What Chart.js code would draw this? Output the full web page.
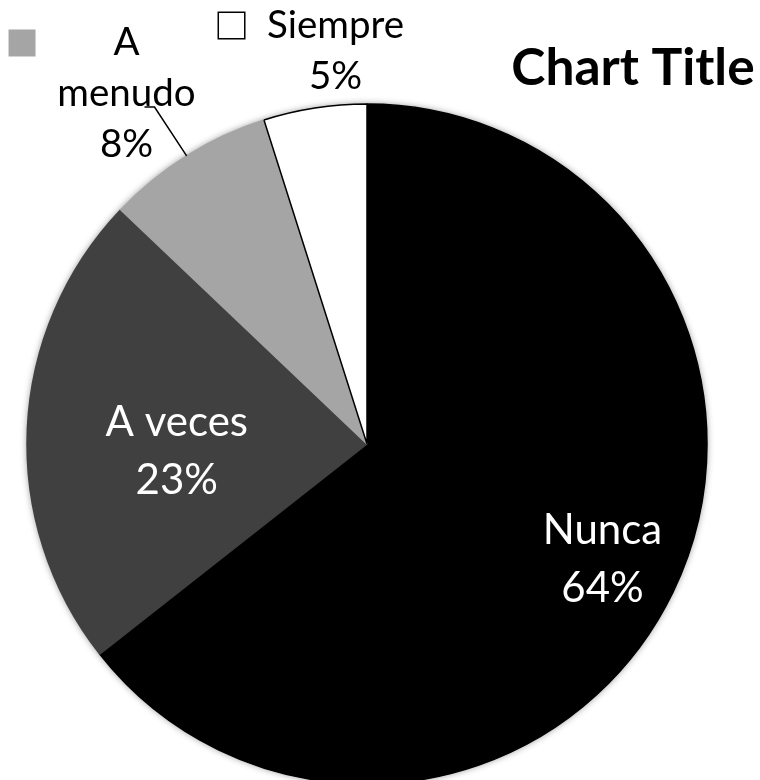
<!DOCTYPE html>
<html>
<head>
<meta charset="utf-8">
<script src="https://cdn.jsdelivr.net/npm/chart.js@4/dist/chart.umd.min.js"></script>
<style>
  html, body { margin: 0; padding: 0; background: #fff; }
  canvas { display: block; }
</style>
</head>
<body>
<canvas id="pie" width="760" height="780"></canvas>
<script>
// data
const categories = ['Nunca', 'A veces', 'A menudo', 'Siempre'];
const shares = [64.4, 22.7, 8.0, 4.9];
const sliceColors = ['#000000', '#404040', '#a5a5a5', '#ffffff'];
const edgeColors = ['#000000', '#404040', '#a5a5a5', '#000000'];
const chartTitle = 'Chart Title';

// label placement: fraction of radius along the mid angle, then a nudge
const labelSpots = [
    { rf: 0.77, dx: 0, dy: 0, inside: true },
    { rf: 0.56, dx: 0, dy: 15, inside: true },
    { rf: 1.25, dx: -15, dy: 10, inside: false, key: 'fill', leader: true },
    { rf: 1.16, dx: 29, dy: -4, inside: false, key: 'box' }
];

const FONT = 'Lato, "Open Sans", sans-serif';

// soft shadow under the whole pie
const pieShadow = {
    id: 'pieShadow',
    beforeDatasetsDraw(chart) {
        let arc = chart.getDatasetMeta(0).data[0];
        if (!arc) return;
        let ctx = chart.ctx;
        ctx.save();
        ctx.shadowColor = 'rgba(0,0,0,0.45)';
        ctx.shadowBlur = 7;
        ctx.fillStyle = '#ffffff';
        ctx.beginPath();
        ctx.arc(arc.x, arc.y, arc.outerRadius, 0, Math.PI * 2);
        ctx.fill();
        ctx.restore();
    }
};

const sliceLabels = {
    id: 'sliceLabels',
    afterDraw(chart) {
        let ctx = chart.ctx;
        let arcs = chart.getDatasetMeta(0).data;
        let total = shares.reduce((a, b) => a + b, 0);
        ctx.save();
        ctx.textAlign = 'center';
        ctx.textBaseline = 'alphabetic';

        arcs.forEach((arc, i) => {
            let spot = labelSpots[i];
            let mid = (arc.startAngle + arc.endAngle) / 2;
            let r = arc.outerRadius;
            let ax = arc.x + Math.cos(mid) * r * spot.rf + spot.dx;
            let ay = arc.y + Math.sin(mid) * r * spot.rf + spot.dy;
            let pct = Math.round(shares[i] / total * 100) + '%';

            let size = spot.inside ? 42 : 38.5;
            let lh = spot.inside ? 58 : 51;
            let cap = spot.inside ? 30 : 25.5;
            let lines = spot.inside ? [categories[i], pct] : categories[i].split(' ').concat([pct]);
            if (categories[i] === 'Siempre') lines = ['Siempre', pct];
            let first = ay - (lines.length - 1) / 2 * lh + cap / 2;

            ctx.font = size + 'px ' + FONT;
            ctx.fillStyle = spot.inside ? '#ffffff' : '#000000';
            lines.forEach((t, k) => ctx.fillText(t, ax, first + k * lh));

            if (spot.key) {
                let kx = ax - 118, ky = first - 26;
                if (spot.key === 'fill') {
                    ctx.fillStyle = sliceColors[i];
                    ctx.fillRect(kx, ky, 27, 27);
                } else {
                    ctx.strokeStyle = '#000';
                    ctx.lineWidth = 1.5;
                    ctx.strokeRect(kx + 0.75, ky + 0.75, 26.5, 26.5);
                }
            }

            if (spot.leader) {
                let ex = arc.x + Math.cos(mid) * r;
                let ey = arc.y + Math.sin(mid) * r;
                ctx.strokeStyle = '#000';
                ctx.lineWidth = 1.5;
                ctx.beginPath();
                ctx.moveTo(ax + 18, first + lh + 0.5);
                ctx.lineTo(ax + 28, first + lh + 0.5);
                ctx.lineTo(ex, ey);
                ctx.stroke();
            }
        });

        // title
        ctx.font = 'bold 51.5px ' + FONT;
        ctx.fillStyle = '#000';
        ctx.fillText(chartTitle, 633, 85);
        ctx.restore();
    }
};

new Chart(document.getElementById('pie'), {
    type: 'pie',
    data: {
        labels: categories,
        datasets: [{
            data: shares,
            backgroundColor: sliceColors,
            borderColor: edgeColors,
            borderWidth: 1.5
        }]
    },
    options: {
        responsive: false,
        animation: false,
        radius: 340,
        layout: { padding: { left: 0, right: 26, top: 108, bottom: 0 } },
        plugins: {
            legend: { display: false },
            title: { display: false },
            tooltip: { enabled: false }
        }
    },
    plugins: [pieShadow, sliceLabels]
});
</script>
</body>
</html>
